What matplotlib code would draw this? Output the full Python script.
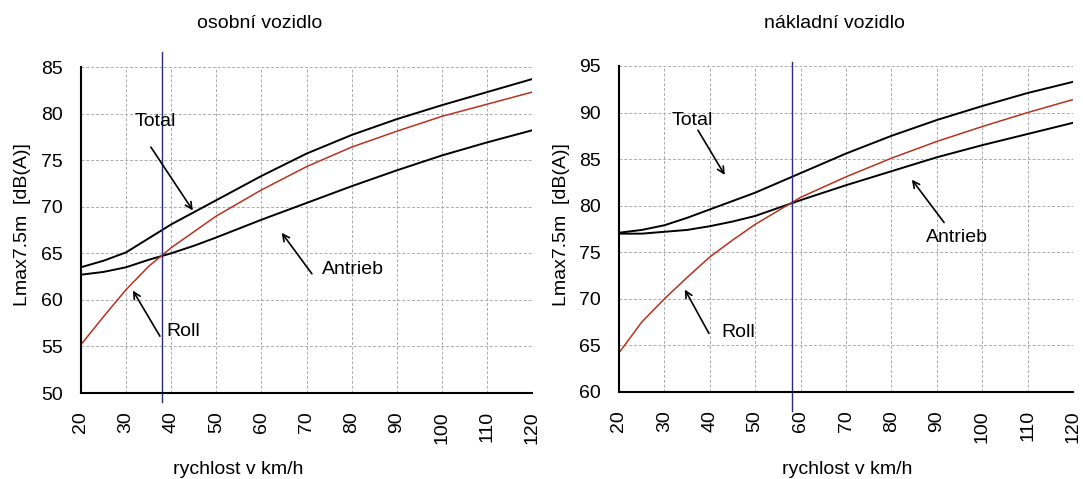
import numpy as np
import matplotlib.pyplot as plt

plt.rcParams['font.family'] = ['Liberation Sans', 'DejaVu Sans']

speed = [20, 25, 30, 35, 40, 45, 50, 60, 70, 80, 90, 100, 110, 120]

# osobni vozidlo
car_total = [63.5, 64.2, 65.1, 66.6, 68.1, 69.4, 70.7, 73.3, 75.7, 77.7, 79.4, 80.9, 82.3, 83.7]
car_antrieb = [62.7, 63.0, 63.5, 64.3, 65.0, 65.8, 66.7, 68.6, 70.4, 72.2, 73.9, 75.5, 76.9, 78.2]
car_roll = [55.2, 58.2, 61.1, 63.6, 65.6, 67.3, 69.0, 71.8, 74.3, 76.4, 78.1, 79.7, 81.0, 82.3]
car_cross = 38

# nakladni vozidlo
truck_total = [77.1, 77.4, 77.9, 78.7, 79.6, 80.5, 81.4, 83.5, 85.6, 87.5, 89.2, 90.7, 92.1, 93.3]
truck_antrieb = [77.0, 77.0, 77.2, 77.4, 77.8, 78.3, 78.9, 80.6, 82.2, 83.7, 85.2, 86.5, 87.7, 88.9]
truck_roll = [64.2, 67.5, 70.0, 72.3, 74.5, 76.3, 78.0, 80.9, 83.1, 85.1, 86.9, 88.5, 90.0, 91.4]
truck_cross = 58

xticks = list(range(20, 121, 10))

W, H = 1083, 479
fig = plt.figure(figsize=(W / 100, H / 100), dpi=100)


def px(x0, y0, x1, y1):
    return [x0 / W, 1 - y1 / H, (x1 - x0) / W, (y1 - y0) / H]


def panel(rect, total, antrieb, roll, cross, ylim, vspan):
    ax = fig.add_axes(rect)
    ax.set_xlim(20, 120)
    ax.set_ylim(*ylim)
    ax.set_xticks(xticks)
    ax.set_yticks(np.arange(ylim[0], ylim[1] + 1, 5))
    ax.tick_params(axis='x', length=0, pad=13, labelsize=14, labelrotation=90)
    ax.tick_params(axis='y', length=0, pad=13, labelsize=14)
    ax.grid(True, color='#ababab', linestyle=(0, (3, 2)), linewidth=0.7)
    ax.set_axisbelow(True)
    for s in ['top', 'right']:
        ax.spines[s].set_visible(False)
    for s in ['left', 'bottom']:
        ax.spines[s].set_linewidth(1.5)
    ax.plot(speed, total, color='black', lw=1.4)
    ax.plot(speed, antrieb, color='black', lw=1.4)
    ax.plot(speed, roll, color='#b8321e', lw=1.1)
    ax.axvline(cross, ymin=vspan[0], ymax=vspan[1], color='#2a2a78', lw=1.0, clip_on=False)
    return ax


def arrow(ax, head, tail):
    ax.annotate('', xy=head, xytext=tail,
                arrowprops=dict(arrowstyle='->', lw=1.2, color='black',
                                shrinkA=0, shrinkB=0, mutation_scale=12))


ax1 = panel(px(81, 67, 532, 393), car_total, car_antrieb, car_roll, car_cross,
            (50, 85), (-0.028, 1.046))
ax1.text(36.4, 79.2, 'Total', fontsize=14, ha='center', va='center')
arrow(ax1, (44.8, 69.6), (35.5, 76.4))
ax1.text(80.3, 63.3, 'Antrieb', fontsize=14, ha='center', va='center')
arrow(ax1, (64.5, 67.2), (71.2, 62.8))
ax1.text(42.6, 56.6, 'Roll', fontsize=14, ha='center', va='center')
arrow(ax1, (31.5, 61.0), (37.5, 56.1))

ax2 = panel(px(619, 66, 1073, 392), truck_total, truck_antrieb, truck_roll, truck_cross,
            (60, 95), (-0.058, 1.012))
ax2.text(36.1, 89.2, 'Total', fontsize=14, ha='center', va='center')
arrow(ax2, (43.3, 83.3), (37.4, 88.1))
ax2.text(94.4, 76.6, 'Antrieb', fontsize=14, ha='center', va='center')
arrow(ax2, (84.5, 82.8), (91.6, 78.2))
ax2.text(46.2, 66.4, 'Roll', fontsize=14, ha='center', va='center')
arrow(ax2, (34.5, 71.0), (39.8, 66.3))

fig.text(260 / W, 1 - 24 / H, 'osobní vozidlo', fontsize=14, ha='center', va='center')
fig.text(834 / W, 1 - 24 / H, 'nákladní vozidlo', fontsize=14, ha='center', va='center')
fig.text(238 / W, 1 - 470 / H, 'rychlost v km/h', fontsize=14, ha='center', va='center')
fig.text(847 / W, 1 - 470 / H, 'rychlost v km/h', fontsize=14, ha='center', va='center')
fig.text(23 / W, 1 - 225 / H, 'Lmax7.5m  [dB(A)]', fontsize=14, rotation=90,
         ha='center', va='center')
fig.text(562 / W, 1 - 225 / H, 'Lmax7.5m  [dB(A)]', fontsize=14, rotation=90,
         ha='center', va='center')

fig.savefig('out.png', dpi=100)
